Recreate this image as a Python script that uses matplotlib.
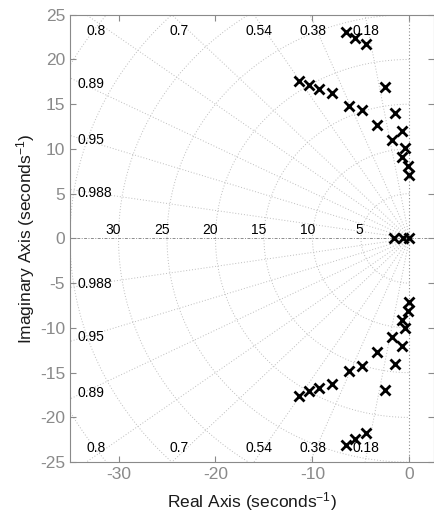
import numpy as np
import matplotlib
matplotlib.use("Agg")
import matplotlib.pyplot as plt

plt.rcParams['font.family'] = ['Liberation Sans', 'DejaVu Sans']
plt.rcParams['mathtext.fontset'] = 'custom'
plt.rcParams['mathtext.rm'] = 'Liberation Sans'
plt.rcParams['mathtext.it'] = 'Liberation Sans'
plt.rcParams['axes.unicode_minus'] = False

# polos (parte superior; la inferior es la conjugada)
polos_re = [-6.5, -5.6, -4.5, -11.4, -10.35, -9.3, -8.0, -2.55, -6.2, -4.85,
            -1.5, -3.3, -0.8, -1.8, -0.45, -0.75, -0.15, -0.05]
polos_im = [23.1, 22.4, 21.7, 17.6, 17.1, 16.7, 16.3, 16.9, 14.8, 14.3,
            14.0, 12.65, 12.0, 11.0, 10.05, 9.1, 8.1, 7.05]
polos_reales = [-1.55, -0.7, 0.0]

# rejilla
zetas = [0.18, 0.38, 0.54, 0.7, 0.8, 0.89, 0.95, 0.988]
zetas_arriba = [0.18, 0.38, 0.54, 0.7, 0.8]
zetas_izq = [0.89, 0.95, 0.988]
wns = [5, 10, 15, 20, 25, 30, 35, 40]
wns_etiqueta = [5, 10, 15, 20, 25, 30]

xlim = (-35, 2.5)
ylim = (-25, 25)

fig = plt.figure(figsize=(4.35, 5.24), dpi=100)
ax = fig.add_axes([0.161, 0.118, 0.836, 0.854])

gcol = '#bdbdbd'
R = 60
for z in zetas:
    s = np.sqrt(1 - z**2)
    ax.plot([0, -z * R], [0, s * R], linestyle=(0, (1, 2)), color=gcol, lw=0.7, zorder=1)
    ax.plot([0, -z * R], [0, -s * R], linestyle=(0, (1, 2)), color=gcol, lw=0.7, zorder=1)

t = np.linspace(np.pi / 2, 3 * np.pi / 2, 400)
for wn in wns:
    ax.plot(wn * np.cos(t), wn * np.sin(t), linestyle=(0, (1, 2)), color=gcol, lw=0.7, zorder=1)

# ejes real e imaginario
ax.plot([xlim[0], xlim[1]], [0, 0], linestyle=(0, (3, 1.5, 1, 1.5)), color='#8c8c8c', lw=0.7, zorder=1)
ax.plot([0, 0], [ylim[0], ylim[1]], linestyle=(0, (1, 2)), color='#8c8c8c', lw=0.8, zorder=1)

# etiquetas de amortiguamiento
for z in zetas_arriba:
    s = np.sqrt(1 - z**2)
    xl = -24.25 * z / s
    ax.text(xl, 23.2, str(z), ha='center', va='center', fontsize=10)
    ax.text(xl, -23.4, str(z), ha='center', va='center', fontsize=10)
for z in zetas_izq:
    s = np.sqrt(1 - z**2)
    yl = 34.0 * s / z - 0.2
    ax.text(-34.2, yl, str(z), ha='left', va='center', fontsize=10)
    ax.text(-34.2, -yl, str(z), ha='left', va='center', fontsize=10)

# etiquetas de frecuencia natural
for wn in wns_etiqueta:
    ax.text(-wn + 0.25, 0.2, str(wn), ha='right', va='bottom', fontsize=10)

re = np.array(polos_re)
im = np.array(polos_im)
ax.plot(np.concatenate([re, re]), np.concatenate([im, -im]), 'x', color='black',
        ms=6.5, mew=2, zorder=3, clip_on=False)
ax.plot(polos_reales, np.zeros(len(polos_reales)), 'x', color='black',
        ms=6.5, mew=2, zorder=3)

ax.set_xlim(xlim)
ax.set_ylim(ylim)
ax.set_xticks([-30, -20, -10, 0])
ax.set_yticks(np.arange(-25, 26, 5))
ax.tick_params(direction='in', top=True, right=True, length=4, width=0.8,
               colors='#8a8a8a', labelsize=12.5, labelcolor='#8a8a8a')
for sp in ax.spines.values():
    sp.set_color('#8a8a8a')
    sp.set_linewidth(0.8)

ax.set_xlabel('Real Axis (seconds$^{-1}$)', fontsize=12.5, color='#1a1a1a', labelpad=6)
ax.set_ylabel('Imaginary Axis (seconds$^{-1}$)', fontsize=12.5, color='#1a1a1a', labelpad=2)

fig.savefig('out.png', dpi=100)
